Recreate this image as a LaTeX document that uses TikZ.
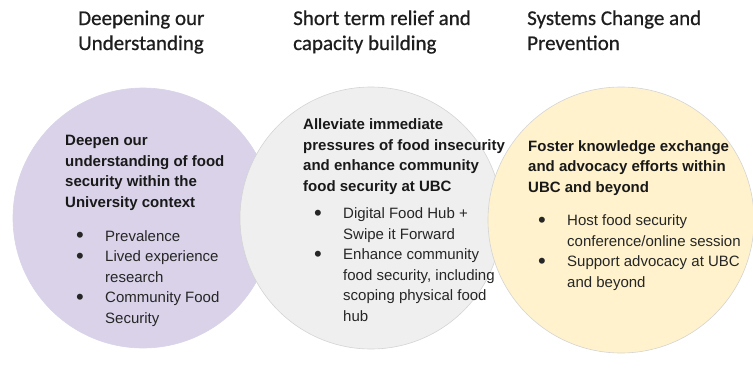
\documentclass[tikz,border=0pt]{standalone}
\usepackage{fontspec}
\setmainfont{Liberation Sans}
\newfontfamily\headfont[FakeBold=0.7]{Carlito}
\definecolor{lilac}{HTML}{D9D2E9}
\definecolor{paleGrey}{HTML}{EFEFEF}
\definecolor{paleYellow}{HTML}{FFF2CC}
\definecolor{rimGrey}{HTML}{D4D4D4}
\definecolor{inkGrey}{HTML}{1E1E1E}
\newcommand{\bul}{\makebox[29pt][l]{\raisebox{-1.6pt}{\fontsize{22}{0}\selectfont\textbullet}}}
\newcommand{\ind}{\hspace*{29pt}}
\tikzset{
	heading/.style={anchor=base west, inner sep=0pt, align=left, text=inkGrey, font=\headfont\fontsize{21}{25}\selectfont},
	goal/.style={anchor=base west, inner sep=0pt, align=left, text=black!90, font=\bfseries\fontsize{15}{20.5}\selectfont},
	items/.style={anchor=base west, inner sep=0pt, align=left, text=black!85, font=\fontsize{15}{20.5}\selectfont},
	disc/.style={circle, draw=rimGrey, line width=0.6pt, inner sep=0pt, minimum size=#1}
}
\begin{document}
\begin{tikzpicture}[x=1pt, y=-1pt]
				\useasboundingbox (0,0) rectangle (753,389);
				% the three circles, left to right
				\node[disc=260pt, fill=lilac, draw=lilac] (understand) at (143,218) {};
				\node[disc=262pt, fill=paleGrey] (relief) at (371,218) {};
				\node[disc=266pt, fill=paleYellow] (systems) at (621,220) {};
				% column headings (base = last line)
				\node[heading] (headA) at (78,50) {Deepening our\\Understanding};
				\node[heading] (headB) at (293,50) {Short term relief and\\capacity building};
				\node[heading] (headC) at (527,50) {Systems Change and\\Prevention};
				% left circle
				\node[goal] (goalA) at (65,207) {Deepen our\\understanding of food\\security within the\\University context};
				\node[items] (listA) at (76,323) {\bul Prevalence\\\bul Lived experience\\\ind research\\\bul Community Food\\\ind Security};
				% middle circle
				\node[goal] (goalB) at (303,191) {Alleviate immediate\\pressures of food insecurity\\and enhance community\\food security at UBC};
				\node[items] (listB) at (314,321) {\bul Digital Food Hub +\\\ind Swipe it Forward\\\bul Enhance community\\\ind food security, including\\\ind scoping physical food\\\ind hub};
				% right circle
				\node[goal] (goalC) at (528,192) {Foster knowledge exchange\\and advocacy efforts within\\UBC and beyond};
				\node[items] (listC) at (538,287) {\bul Host food security\\\ind conference/online session\\\bul Support advocacy at UBC\\\ind and beyond};
\end{tikzpicture}
\end{document}
